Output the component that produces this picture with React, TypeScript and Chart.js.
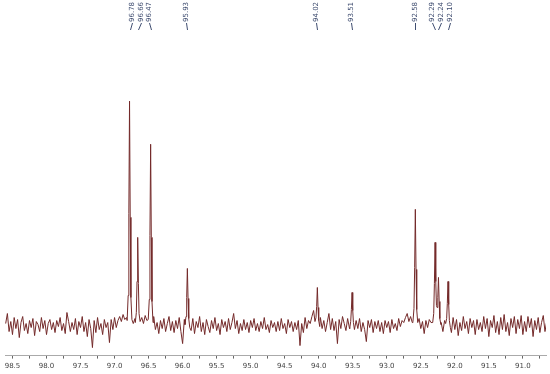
import React, { useEffect, useRef } from "react";
import { Chart, registerables } from "chart.js";

Chart.register(...registerables);

// Baseline noise sampled on a regular ppm grid (start, step), intensity in arbitrary units
const noiseStart = 98.6;
const noiseStep = 0.025;
const noiseValues: number[] = [
  2, 12, -6, 4, -9, 8, -3, 6, -12, 3, 9, -5, 2, -8, 5, -2, 7, -10, 4, 1,
  -6, 8, -3, 5, -9, 2, 6, -4, 3, -7, 5, -1, 8, -5, 2, -8, 13, 4, -6, 3,
  -4, 7, -9, 4, -2, 9, -6, 3, -11, 6, -3, -22, 5, -7, 8, -4, 2, -9, 6, -2,
  3, -17, 6, -4, 8, -2, 5, 9, 4, 11, 6, 8, 3, 5, 10, 2, 7, 4, 9, 3,
  8, 2, 10, 5, 7, 3, 6, 9, -4, 3, -8, 5, -3, 7, -6, 2, 9, -5, 4, -7,
  5, -3, 8, -6, -18, 6, 4, 9, 3, -5, 7, -8, 4, -2, 9, -6, 3, -9, 6, -1,
  -7, 5, -3, 8, -5, 2, -9, 6, -2, 4, -6, 7, -4, 3, 12, -3, 5, -8, 2, -5,
  6, -4, 3, -7, 5, -2, 7, -5, 2, -6, 4, -3, 8, -4, 1, -7, 5, -2, 3, -6,
  4, -5, 7, -3, 2, -8, 6, -2, 4, -6, 3, -4, 5, -20, 2, -7, 8, -3, 5, 2,
  9, 15, 4, 10, 6, 8, -3, 5, -6, 3, 12, -4, 7, -5, 4, -18, 6, -3, 9, 2,
  -5, 7, -2, 4, 6, -8, 5, -3, 7, -6, 3, -4, -16, 5, -2, 6, -7, 4, -3, 5,
  -6, 3, -8, 5, -2, 4, -7, 6, -3, 2, -5, 7, -1, 5, 3, 8, 12, 4, 9, 3,
  6, 2, -5, 7, -3, 4, -8, 5, -2, 6, 3, 5, 8, 6, 9, 4, 3, -6, 5, -4,
  2, 5, -7, 8, -4, 6, -10, 3, -5, 9, -3, 4, -8, 7, -2, 5, -9, 6, -4, 3,
  -6, 9, -3, 7, -11, 5, -2, 10, -7, 4, -9, 8, -4, 11, -6, 3, -10, 7, -2, 9,
  -8, 6, -3, 10, -9, 4, -6, 9, -2, 7, -11, 5, -4, 8, -7, 3, 10, -6, 4,
];

// Peak labels (ppm) and where their labels sit along the top
const peakLabels: string[] = ["96.78", "96.66", "96.47", "95.93", "94.02", "93.51", "92.58", "92.29", "92.24", "92.10"];
const labelPpm: number[] = [96.75, 96.618, 96.491, 95.951, 94.04, 93.525, 92.584, 92.334, 92.206, 92.069];

// Peak profile points [ppm, intensity]
const peakPoints: [number, number][] = [
  [96.815, 5], [96.8, 30], [96.79, 112], [96.78, 224], [96.77, 108], [96.76, 28], [96.745, 6],
  [96.695, 3], [96.68, 13], [96.67, 44], [96.66, 88], [96.65, 42], [96.64, 12], [96.625, 4],
  [96.505, 6], [96.49, 26], [96.48, 90], [96.47, 181], [96.46, 88], [96.45, 24], [96.435, 3],
  [95.965, 1], [95.95, 9], [95.94, 28], [95.93, 57], [95.92, 27], [95.91, 7], [95.895, -2],
  [94.055, 4], [94.04, 8], [94.03, 19], [94.02, 38], [94.01, 18], [94.0, 5], [93.985, -1],
  [93.545, -3], [93.53, 4], [93.52, 16], [93.51, 33], [93.5, 15], [93.49, 3], [93.475, -4],
  [92.615, 4], [92.6, 17], [92.59, 58], [92.58, 116], [92.57, 56], [92.56, 16], [92.545, 3],
  [92.325, 3], [92.31, 12], [92.3, 42], [92.29, 83], [92.28, 44], [92.27, 20], [92.26, 18],
  [92.25, 28], [92.24, 48], [92.23, 24], [92.22, 7], [92.205, 1],
  [92.135, 2], [92.12, 7], [92.11, 22], [92.1, 44], [92.09, 21], [92.08, 5], [92.065, -2],
];

const xTickLabels: string[] = ["98.5", "98.0", "97.5", "97.0", "96.5", "96.0", "95.5", "95.0", "94.5", "94.0", "93.5", "93.0", "92.5", "92.0", "91.5", "91.0"];
const xMinorTicks: number[] = [98.25, 97.75, 97.25, 96.75, 96.25, 95.75, 95.25, 94.75, 94.25, 93.75, 93.25, 92.75, 92.25, 91.75, 91.25, 90.75];

const X_MIN = 90.66;
const X_MAX = 98.61;

const LINE_COLOR = "#742a2a";
const LABEL_COLOR = "#3f4d70";

function buildData() {
  const centers = peakLabels.map((s) => parseFloat(s));
  const pts: { x: number; y: number }[] = [];
  noiseValues.forEach((v, i) => {
    const x = +(noiseStart - i * noiseStep).toFixed(4);
    if (centers.some((c) => Math.abs(c - x) < 0.036)) return;
    pts.push({ x, y: v });
  });
  peakPoints.forEach(([x, y]) => pts.push({ x, y }));
  pts.sort((a, b) => b.x - a.x);
  return pts;
}

const peakLabelPlugin = {
  id: "peakLabels",
  afterDraw(chart: any) {
    const ctx = chart.ctx;
    const xs = chart.scales.x;
    ctx.save();
    ctx.fillStyle = LABEL_COLOR;
    ctx.strokeStyle = LABEL_COLOR;
    ctx.lineWidth = 1;
    ctx.font = '7px "DejaVu Sans"';
    peakLabels.forEach((lbl, i) => {
      const lx = Math.round(xs.getPixelForValue(labelPpm[i])) + 0.5;
      const px = Math.round(xs.getPixelForValue(parseFloat(lbl))) + 0.5;
      ctx.save();
      ctx.translate(lx, 22);
      ctx.rotate(-Math.PI / 2);
      ctx.textAlign = "left";
      ctx.textBaseline = "middle";
      ctx.fillText(lbl, 0, 0);
      ctx.restore();
      ctx.beginPath();
      ctx.moveTo(lx, 23);
      ctx.lineTo(px, 30);
      ctx.stroke();
    });
    ctx.restore();
  },
};

export default function App() {
  const ref = useRef<HTMLCanvasElement | null>(null);
  useEffect(() => {
    if (!ref.current) return;
    const majorVals = xTickLabels.map((s) => parseFloat(s));
    const allTicks = [...majorVals, ...xMinorTicks].sort((a, b) => b - a);
    const chart = new Chart(ref.current, {
      type: "line",
      data: {
        datasets: [
          {
            data: buildData(),
            borderColor: LINE_COLOR,
            borderWidth: 1,
            pointRadius: 0,
            tension: 0,
            fill: false,
          },
        ],
      },
      options: {
        responsive: false,
        animation: false,
        parsing: false as any,
        normalized: true,
        layout: { padding: { left: 5, right: 4, top: 0, bottom: 1 } },
        plugins: { legend: { display: false }, tooltip: { enabled: false } },
        scales: {
          x: {
            type: "linear",
            reverse: true,
            min: X_MIN,
            max: X_MAX,
            afterBuildTicks: (scale: any) => {
              scale.ticks = allTicks.map((v) => ({ value: v }));
            },
            ticks: {
              autoSkip: false,
              maxRotation: 0,
              padding: 3,
              color: "#444",
              font: { family: "DejaVu Sans", size: 7 },
              callback: (value: any) => {
                const idx = majorVals.findIndex((m) => Math.abs(m - value) < 1e-6);
                return idx >= 0 ? xTickLabels[idx] : "";
              },
            },
            grid: {
              drawOnChartArea: false,
              drawTicks: true,
              tickLength: 3,
              color: "#666",
            },
            border: { display: true, color: "#aaa", width: 1 },
          },
          y: {
            display: false,
            min: -30,
            max: 325,
          },
        },
      },
      plugins: [peakLabelPlugin],
    });
    return () => chart.destroy();
  }, []);
  return (
    <div style={{ position: "fixed", left: 0, top: 0, width: 550, height: 374, background: "#fff" }}>
      <canvas ref={ref} width={550} height={374} style={{ width: 550, height: 374 }} />
    </div>
  );
}
